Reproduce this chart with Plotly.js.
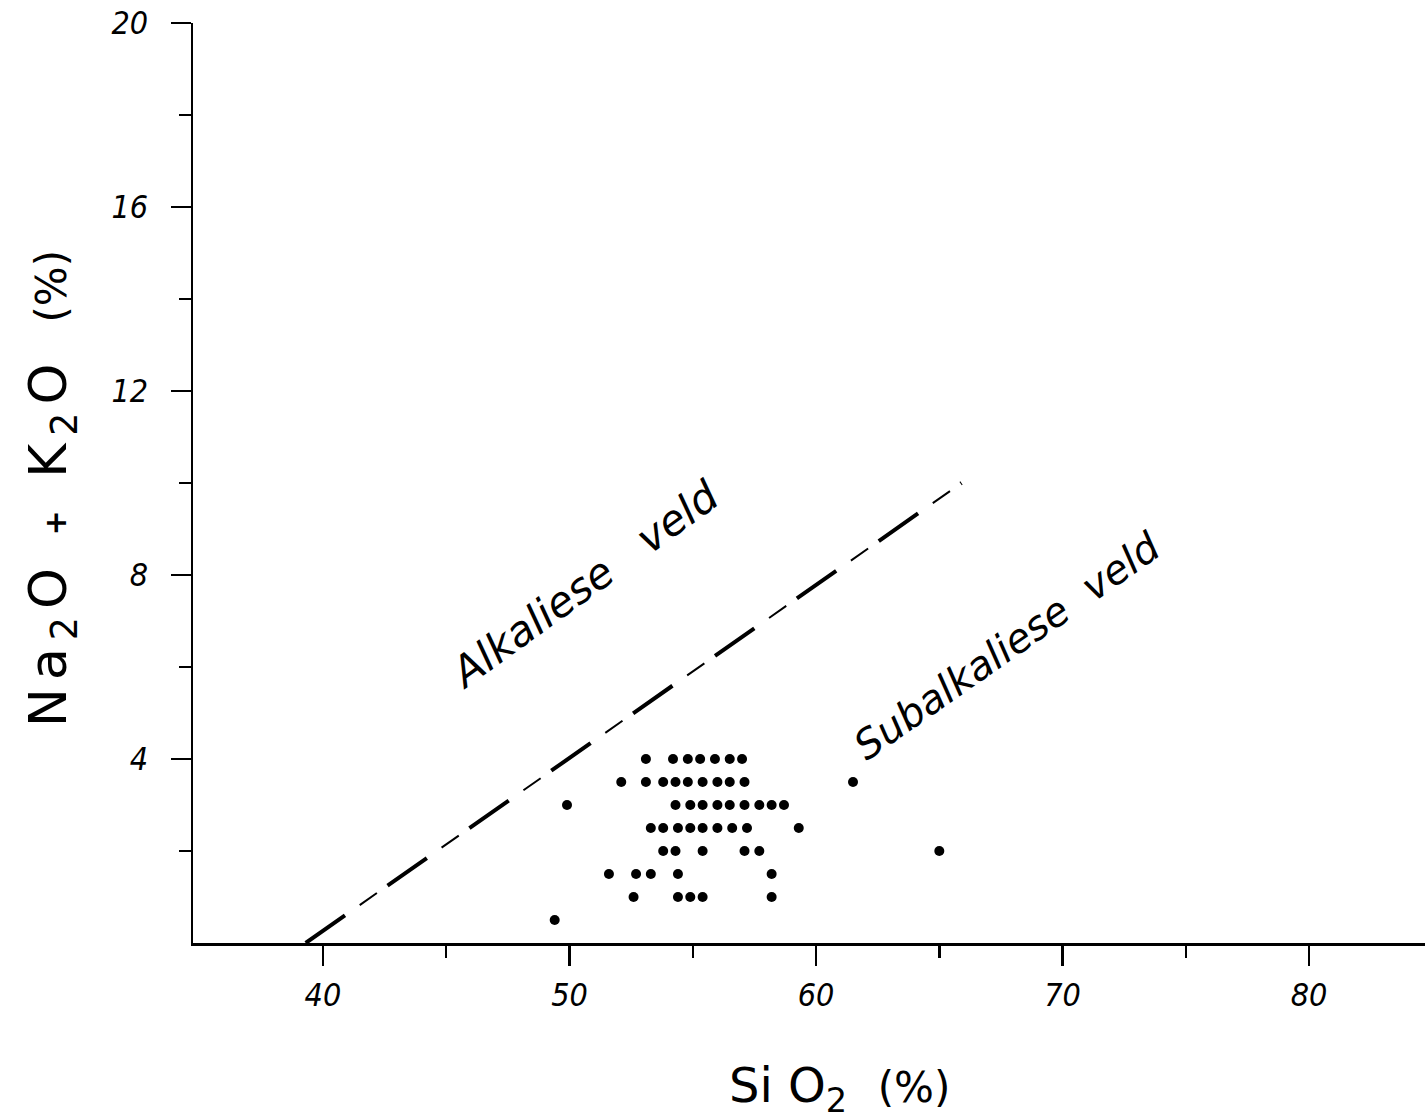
<!DOCTYPE html>
<html>
<head>
<meta charset="utf-8">
<script src="https://cdn.plot.ly/plotly-3.0.1.min.js"></script>
<style>
html,body{margin:0;padding:0;background:#fff;}
#chart{width:1425px;height:1119px;}
</style>
</head>
<body>
<div id="chart"></div>
<script>
// Sample analyses: SiO2 (%) vs Na2O + K2O (%)
const siO2 = [
  53.1, 54.2, 54.8, 55.3, 55.9, 56.5, 57.0,
  52.1, 53.1, 53.8, 54.3, 54.8, 55.4, 56.0, 56.5, 57.1, 61.5,
  49.9, 54.3, 54.9, 55.4, 56.0, 56.5, 57.1, 57.7, 58.2, 58.7,
  53.3, 53.8, 54.4, 54.9, 55.4, 56.0, 56.6, 57.2, 59.3,
  53.8, 54.3, 55.4, 57.1, 57.7, 65.0,
  51.6, 52.7, 53.3, 54.4, 58.2,
  52.6, 54.4, 54.9, 55.4, 58.2,
  49.4
];
const alkali = [
  4.0, 4.0, 4.0, 4.0, 4.0, 4.0, 4.0,
  3.5, 3.5, 3.5, 3.5, 3.5, 3.5, 3.5, 3.5, 3.5, 3.5,
  3.0, 3.0, 3.0, 3.0, 3.0, 3.0, 3.0, 3.0, 3.0, 3.0,
  2.5, 2.5, 2.5, 2.5, 2.5, 2.5, 2.5, 2.5, 2.5,
  2.0, 2.0, 2.0, 2.0, 2.0, 2.0,
  1.5, 1.5, 1.5, 1.5, 1.5,
  1.0, 1.0, 1.0, 1.0, 1.0,
  0.5
];
// Alkaline / subalkaline dividing line
const boundaryX = [39.3, 65.9];
const boundaryY = [0, 10];

const xTickVals = [40, 50, 60, 70, 80];
const xMinorVals = [45, 55, 65, 75];
const yTickVals = [4, 8, 12, 16, 20];
const yMinorVals = [2, 6, 10, 14, 18];

const fieldLabels = ["Alkaliese&nbsp;&nbsp;&nbsp;veld", "Subalkaliese&nbsp;&nbsp;veld"];

const tickFont = {family: "DejaVu Sans Condensed, Liberation Sans Narrow, DejaVu Sans", size: 32, color: "#000", style: "italic"};
const titleFam = "DejaVu Sans, Liberation Sans";

const traces = [
  {
    x: boundaryX, y: boundaryY, type: "scatter", mode: "lines",
    line: {color: "#000", width: 4, dash: "48px,52px"},
    hoverinfo: "skip", showlegend: false
  },
  {
    x: boundaryX, y: boundaryY, type: "scatter", mode: "lines",
    line: {color: "#000", width: 2, dash: "0px,66px,21px,13px"},
    hoverinfo: "skip", showlegend: false
  },
  {
    x: siO2, y: alkali, type: "scatter", mode: "markers",
    marker: {color: "#000", size: 10, symbol: "circle"},
    showlegend: false
  }
];

const layout = {
  width: 1425, height: 1119,
  margin: {l: 193, r: 0, t: 23, b: 176, pad: 0},
  paper_bgcolor: "#fff", plot_bgcolor: "#fff",
  showlegend: false,
  xaxis: {
    range: [34.73, 84.7],
    showline: true, linecolor: "#000", linewidth: 2.5, mirror: false,
    showgrid: false, zeroline: false,
    tickmode: "array", tickvals: xTickVals, ticktext: xTickVals.map(String),
    ticks: "outside", ticklen: 20, tickwidth: 2.5, tickcolor: "#000",
    ticklabelstandoff: 2,
    tickfont: tickFont,
    minor: {tickmode: "array", tickvals: xMinorVals, ticks: "outside", ticklen: 12, tickwidth: 2.5, tickcolor: "#000", showgrid: false}
  },
  yaxis: {
    range: [0, 20],
    showline: true, linecolor: "#000", linewidth: 2.5, mirror: false,
    showgrid: false, zeroline: false,
    tickmode: "array", tickvals: yTickVals, ticktext: yTickVals.map(String),
    ticks: "outside", ticklen: 20, tickwidth: 2.5, tickcolor: "#000",
    ticklabelstandoff: 16,
    tickfont: tickFont,
    minor: {tickmode: "array", tickvals: yMinorVals, ticks: "outside", ticklen: 12, tickwidth: 2.5, tickcolor: "#000", showgrid: false}
  },
  annotations: [
    {
      text: fieldLabels[0], x: 50.6, y: 7.8, xref: "x", yref: "y",
      showarrow: false, textangle: -36,
      font: {family: titleFam, size: 42, color: "#000", style: "italic"},
      xanchor: "center", yanchor: "middle"
    },
    {
      text: fieldLabels[1], x: 67.75, y: 6.45, xref: "x", yref: "y",
      showarrow: false, textangle: -35,
      font: {family: titleFam, size: 40, color: "#000", style: "italic"},
      xanchor: "center", yanchor: "middle"
    },
    {
      text: "Si&nbsp;O<sub>2</sub>&nbsp;&nbsp;<span style='font-size:42px'>(%)</span>",
      x: 0.525, y: -0.158, xref: "paper", yref: "paper",
      showarrow: false, font: {family: titleFam, size: 48, color: "#000"},
      xanchor: "center", yanchor: "middle"
    },
    {
      text: "<span style='letter-spacing:8px'>Na<sub>2</sub>O <b><span style='font-size:30px'>+</span></b> K<sub>2</sub>O</span>  <span style='font-size:42px'>(%)</span>",
      x: -0.1145, y: 0.4946, xref: "paper", yref: "paper",
      showarrow: false, textangle: -90, font: {family: titleFam, size: 52, color: "#000"},
      xanchor: "center", yanchor: "middle"
    }
  ]
};

Plotly.newPlot("chart", traces, layout, {displayModeBar: false, staticPlot: true});
</script>
</body>
</html>
